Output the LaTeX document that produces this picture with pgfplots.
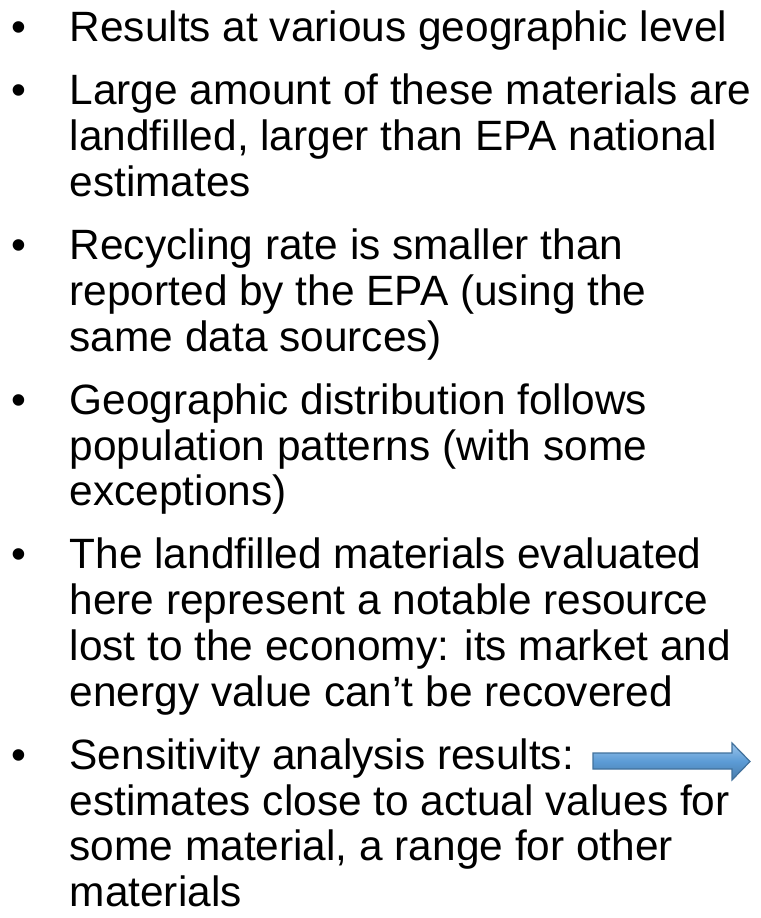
\documentclass[border=0pt]{standalone}
\usepackage{pgfplots}
\pgfplotsset{compat=1.18}
\usepackage{fontspec}
\setmainfont{Liberation Sans}
\definecolor{arrowfill}{HTML}{5B9BD5}
\definecolor{arrowtop}{HTML}{9CC5EC}
\definecolor{arrowline}{HTML}{41719C}
\tikzset{t/.style={font=\fontsize{42.4bp}{46bp}\selectfont, inner sep=0pt, text=black, anchor=base west},
         b/.style={font=\fontsize{42.4bp}{46bp}\selectfont, inner sep=0pt, text=black, anchor=base}}
\begin{document}
\begin{tikzpicture}
\begin{axis}[
  scale only axis, width=761bp, height=918bp,
  xmin=0, xmax=761, ymin=0, ymax=918, y dir=reverse,
  hide axis, clip=false
]
\addplot[draw=none] coordinates {(0,0) (761,918)};
% bullets
\node[b] at (axis cs:18.5,42) {\textbullet};
\node[b] at (axis cs:18.5,105) {\textbullet};
\node[b] at (axis cs:18.5,259.6) {\textbullet};
\node[b] at (axis cs:18.5,414.2) {\textbullet};
\node[b] at (axis cs:18.5,568.8) {\textbullet};
\node[b] at (axis cs:18.5,769.2) {\textbullet};
\node[t] at (axis cs:69.5,42) {Results at various geographic level};
\node[t] at (axis cs:69.5,105) {Large amount of these materials are};
\node[t] at (axis cs:69.5,150.8) {landfilled, larger than EPA national};
\node[t] at (axis cs:69.5,196.6) {estimates};
\node[t] at (axis cs:69.5,259.6) {Recycling rate is smaller than};
\node[t] at (axis cs:69.5,305.4) {reported by the EPA (using the};
\node[t] at (axis cs:69.5,351.2) {same data sources)};
\node[t] at (axis cs:69.5,414.2) {Geographic distribution follows};
\node[t] at (axis cs:69.5,460) {population patterns (with some};
\node[t] at (axis cs:69.5,505.8) {exceptions)};
\node[t] at (axis cs:69.5,568.8) {The landfilled materials evaluated};
\node[t] at (axis cs:69.5,614.6) {here represent a notable resource};
\node[t] at (axis cs:69.5,660.4) {lost to the economy: its market and};
\node[t] at (axis cs:69.5,706.2) {energy value can’t be recovered};
\node[t] at (axis cs:69.5,769.2) {Sensitivity analysis results:};
\node[t] at (axis cs:69.5,815) {estimates close to actual values for};
\node[t] at (axis cs:69.5,860.8) {some material, a range for other};
\node[t] at (axis cs:69.5,906.6) {materials};
% arrow
\addplot[draw=arrowline, line width=1.2bp, top color=arrowtop, bottom color=arrowfill!80!black, middle color=arrowfill]
  coordinates {(593,753) (732,753) (732,743) (750,761.5) (732,780) (732,769) (593,769)} -- cycle;
\end{axis}
\end{tikzpicture}
\end{document}
